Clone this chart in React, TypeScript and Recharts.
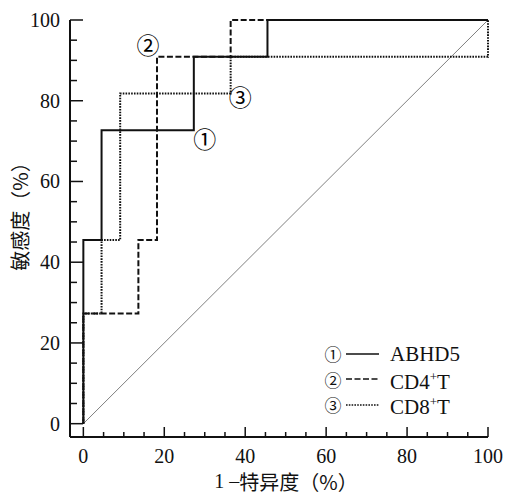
import React from "react";
import {
  LineChart,
  Line,
  XAxis,
  YAxis,
  ReferenceDot,
  Legend,
  Label,
} from "recharts";

const INK = "#111";
const DIAG = "#808080";
const SERIF = "Liberation Serif, Times New Roman, serif";
const CJK = "Noto Sans CJK SC, Noto Sans, sans-serif";

// ROC step points (1-specificity %, sensitivity %)
const abhd5Fpr = [0, 0, 4.5, 27.3, 45.5, 100];
const abhd5Tpr = [0, 45.5, 72.7, 90.9, 100, 100];
const cd4Fpr = [0, 0, 13.6, 18.2, 36.4, 100];
const cd4Tpr = [0, 27.3, 45.5, 90.9, 100, 100];
const cd8Fpr = [0, 0, 4.5, 9.1, 36.4, 100];
const cd8Tpr = [0, 27.3, 45.5, 81.8, 90.9, 100];
const refFpr = [0, 100];
const refTpr = [0, 100];

const TICKS = [0, 5, 10, 15, 20, 25, 30, 35, 40, 45, 50, 55, 60, 65, 70, 75, 80, 85, 90, 95, 100];

// curve markers placed in data coordinates
const markNames = ["①", "②", "③"];
const markX = [30, 16, 38.8];
const markY = [70.3, 93.6, 80.6];

const toPoints = (xs: number[], ys: number[]) => xs.map((x, i) => ({ x, y: ys[i] }));

const series = [
  { key: "abhd5", mark: "①", name: "ABHD5", sup: "", dash: undefined, data: toPoints(abhd5Fpr, abhd5Tpr) },
  { key: "cd4", mark: "②", name: "CD4", sup: "+", dash: "6 2.5", data: toPoints(cd4Fpr, cd4Tpr) },
  { key: "cd8", mark: "③", name: "CD8", sup: "+", dash: "1.6 1.2", data: toPoints(cd8Fpr, cd8Tpr) },
];

function YTick({ x, y, payload }: any) {
  const major = payload.value % 20 === 0;
  return (
    <g>
      <line x1={x} y1={y} x2={x + (major ? 13 : 7)} y2={y} stroke={INK} strokeWidth={1.5} />
      {major && (
        <text x={x - 10} y={y} dy={7} textAnchor="end" style={{ fontFamily: SERIF }} fontSize={20} fill={INK}>
          {payload.value}
        </text>
      )}
    </g>
  );
}

function XTick({ x, y, payload }: any) {
  const major = payload.value % 20 === 0;
  return (
    <g>
      <line x1={x} y1={y} x2={x} y2={y - (major ? 10 : 5)} stroke={INK} strokeWidth={1.5} />
      {major && (
        <text x={x} y={y + 26} textAnchor="middle" style={{ fontFamily: SERIF }} fontSize={20} fill={INK}>
          {payload.value}
        </text>
      )}
    </g>
  );
}

function LegendBox() {
  return (
    <div style={{ fontFamily: SERIF, color: INK }}>
      {series.map((s) => (
        <div key={s.key} style={{ display: "flex", alignItems: "center", height: 25.5 }}>
          <span style={{ fontFamily: CJK, fontSize: 17, width: 18, textAlign: "center" }}>{s.mark}</span>
          <svg width={36} height={10} style={{ marginLeft: 4 }}>
            <line x1={0} y1={5} x2={33} y2={5} stroke={INK} strokeWidth={1.6} strokeDasharray={s.dash} />
          </svg>
          <span style={{ fontSize: 21, marginLeft: 8, lineHeight: "22px" }}>
            {s.name}
            {s.sup && <sup style={{ fontSize: 13 }}>{s.sup}</sup>}
            {s.sup && "T"}
          </span>
        </div>
      ))}
    </div>
  );
}

export default function App() {
  return (
    <div style={{ position: "absolute", left: 0, top: 0 }}>
      <LineChart width={505} height={495} margin={{ top: 20, right: 17, left: 0, bottom: 0 }}>
        <XAxis
          type="number"
          dataKey="x"
          domain={[-3.3, 100]}
          ticks={TICKS}
          interval={0}
          height={58}
          tickSize={0}
          tickMargin={0}
          tickLine={false}
          tick={<XTick />}
          axisLine={{ stroke: INK, strokeWidth: 2 }}
        >
          <Label
            content={({ viewBox }: any) => (
              <text
                x={viewBox.x + viewBox.width / 2 + 7}
                y={viewBox.y + 44}
                textAnchor="middle"
                dominantBaseline="central"
                style={{ fontFamily: CJK }}
                fontSize={20}
                fill={INK}
              >
                <tspan style={{ fontFamily: SERIF }}>1 –</tspan>
                <tspan>特异度（%）</tspan>
              </text>
            )}
          />
        </XAxis>
        <YAxis
          type="number"
          dataKey="y"
          domain={[-3.3, 100]}
          ticks={TICKS}
          interval={0}
          width={70}
          tickSize={0}
          tickMargin={0}
          tickLine={false}
          tick={<YTick />}
          axisLine={{ stroke: INK, strokeWidth: 2 }}
        >
          <Label
            content={({ viewBox }: any) => {
              const cx = 19;
              const cy = viewBox.y + viewBox.height / 2 - 17;
              return (
                <text
                  transform={`translate(${cx},${cy}) rotate(-90)`}
                  textAnchor="middle"
                  dominantBaseline="central"
                  style={{ fontFamily: CJK }}
                  fontSize={20}
                  fill={INK}
                >
                  敏感度（%）
                </text>
              );
            }}
          />
        </YAxis>
        <Legend
          layout="vertical"
          align="center"
          verticalAlign="middle"
          content={<LegendBox />}
          wrapperStyle={{ left: 324, top: 341, width: 170 }}
        />
        <Line
          data={toPoints(refFpr, refTpr)}
          dataKey="y"
          type="linear"
          stroke={DIAG}
          strokeWidth={1}
          dot={false}
          legendType="none"
          isAnimationActive={false}
        />
        {series.map((s) => (
          <Line
            key={s.key}
            data={s.data}
            dataKey="y"
            name={s.name}
            type="stepAfter"
            stroke={INK}
            strokeWidth={2}
            strokeDasharray={s.dash}
            dot={false}
            isAnimationActive={false}
          />
        ))}
        {markNames.map((m, i) => (
          <ReferenceDot
            key={m}
            x={markX[i]}
            y={markY[i]}
            r={0}
            stroke="none"
            fill="none"
            label={{ value: m, position: "center", fontFamily: CJK, fontSize: 23, fill: "#000" }}
          />
        ))}
      </LineChart>
    </div>
  );
}
